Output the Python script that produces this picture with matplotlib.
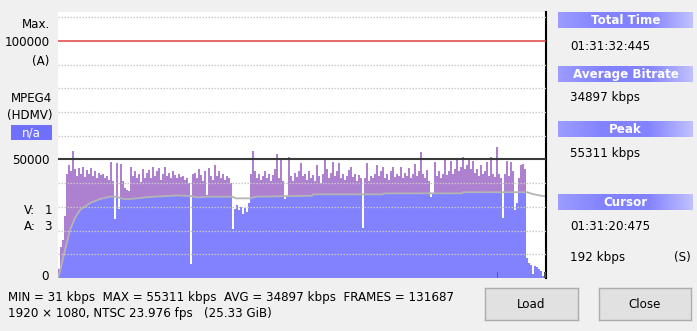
import numpy as np
import matplotlib
matplotlib.use("Agg")
import matplotlib.pyplot as plt
from matplotlib.colors import LinearSegmentedColormap

plt.rcParams["font.family"] = ["DejaVu Sans"]

duration_s = 5492.4           # 01:31:32:445
# bitrate per column (kbps), one value every ~22.5 s
bitrate_kbps = [
    4, 13, 16, 26, 44, 47.5, 45, 53.5, 46, 43, 46.5, 44, 47, 42.5, 45.5, 44,
    46.5, 43, 45, 42, 44.5, 43.5, 44, 42, 43, 41.5, 49, 41, 25, 48.5, 29, 48,
    41, 38, 37, 36.5, 47, 43, 45, 42, 44, 40.5, 46, 42, 44.5, 45.5, 42, 47,
    43, 45, 46.5, 41.5, 44, 47, 43, 44.5, 42, 45, 43.5, 42, 44, 42.5, 43, 41.5,
    42, 40, 6, 44, 44.5, 42, 46, 43.5, 41, 45, 35, 46.5, 43, 41.5, 47.5, 43,
    45, 42, 44, 41.5, 43, 42, 40, 20.5, 29, 31, 28.5, 30, 27, 29.5, 28, 31.5,
    44, 53.5, 45, 42, 44, 41.5, 43, 45, 42, 44, 41, 43.5, 46, 52.5, 42, 50,
    41, 33.5, 34, 51, 43, 41, 44.5, 42.5, 45, 48.5, 43, 44, 41.5, 45, 42, 43.5,
    41, 47.5, 43, 40, 44, 50.5, 46, 42, 44.5, 49, 43, 45, 48.5, 42, 44, 41.5,
    43, 45.5, 47, 42.5, 44, 41, 43.5, 42, 21, 42, 48.5, 41, 43, 42, 44, 47.5,
    43, 45, 47, 42, 44, 41.5, 45, 47, 42.5, 44, 43, 47, 42, 44.5, 43, 46.5,
    42, 44, 48, 43, 45, 53, 44, 42, 45.5, 41, 34, 36, 49, 43, 45, 42,
    44, 50, 43.5, 45, 49.5, 44, 46, 50.5, 45, 47, 51, 46, 47.5, 50, 46, 49.5,
    44.5, 46, 43, 47.5, 44, 45, 49, 43, 51, 44, 42.5, 55.3, 44, 42, 25.5, 44,
    49.5, 43, 49, 45, 28.5, 31.5, 42, 47.5, 48, 46, 8.5, 6.5, 5.5, 1.5, 5, 4.5,
    4, 3, 1, 0.2,
]
# running average line (time s, kbps)
avg_time_s = [0, 22, 79, 135, 191, 248, 360, 473, 585, 664, 732, 810, 1035, 1339,
              1486, 1564, 1711, 1958, 2003, 2161, 2228, 2859, 2870, 3658, 3669,
              4547, 4558, 5278, 5346, 5425, 5492]
avg_kbps = [0, 2.7, 11.8, 20.3, 25.3, 28.7, 31.6, 33.3, 34.3, 34.3, 33.3, 33.3,
            34.2, 34.8, 34.6, 34.0, 34.3, 34.3, 33.6, 33.6, 34.3, 34.7, 35.3,
            35.3, 35.7, 35.7, 36.2, 36.2, 35.4, 34.8, 34.4]
peak_time_s = 4945
cursor_time_s = 5480
limit_max = 100000
limit_ref = 50000
grid_levels = [10000, 20000, 30000, 40000, 60000, 70000, 80000, 90000, 110000]

left_labels = [("Max.", 50, 25), ("100000", 50, 42), ("(A)", 49, 62),
               ("MPEG4", 52, 98), ("(HDMV)", 53, 115), ("50000", 50, 160),
               ("0", 49, 277)]
panel = [("Total Time", 12, 28, ["01:31:32:445"], [46]),
         ("Average Bitrate", 66, 82, ["34897 kbps"], [98]),
         ("Peak", 121, 137, ["55311 kbps"], [153]),
         ("Cursor", 194, 210, ["01:31:20:475", "192 kbps"], [227, 257])]
info_line1 = "MIN = 31 kbps  MAX = 55311 kbps  AVG = 34897 kbps  FRAMES = 131687"
info_line2 = "1920 \u00d7 1080, NTSC 23.976 fps   (25.33 GiB)"

W, H = 697, 331
BLUE = "#8282ff"
PURPLE = "#ae80d0"
BG = "#f0f0f0"


def fx(x):
    return x / W


def fy(y):
    return 1 - y / H


fig = plt.figure(figsize=(W / 100, H / 100), dpi=100, facecolor=BG)

ax = fig.add_axes([fx(58), fy(278), fx(546) - fx(58), fy(12) - fy(278)])
ax.set_facecolor("white")

v = np.array(bitrate_kbps) * 1000
n = len(v)
step = duration_s / n
left_edges = np.arange(n) * step
centers = left_edges + step / 2
avg_line = np.array(avg_kbps) * 1000
avg_at = np.interp(centers, avg_time_s, avg_line)

# part of each column under the running average is blue, the rest purple
low = np.minimum(v, avg_at)
high = np.maximum(v - avg_at, 0)
ax.bar(left_edges, low, width=step, align="edge", color=BLUE,
       linewidth=0, antialiased=False, zorder=1)
ax.bar(left_edges, high, bottom=avg_at, width=step, align="edge",
       color=PURPLE, linewidth=0, antialiased=False, zorder=1.5)
ax.plot(avg_time_s, avg_line, color="#b4b4b4", lw=1.3, zorder=2)

ax.set_yticks(grid_levels)
ax.yaxis.grid(True, color="#c8c8c8", linestyle=(0, (1.2, 1.2)), lw=0.9)
ax.set_axisbelow(False)
ax.axhline(limit_ref, color="#3a3a3a", lw=1.5, zorder=4)
ax.axhline(limit_max, color="#e04040", lw=1.1, zorder=4)

ax.bar([peak_time_s], [2600], width=16, color="#e8204c", zorder=5)
ax.bar([cursor_time_s], [2600], width=22, color="#505050", zorder=5)

ax.set_xlim(0, duration_s)
ax.set_ylim(0, 112200)
ax.tick_params(left=False, labelleft=False, bottom=False, labelbottom=False)
for s in ["left", "top", "bottom"]:
    ax.spines[s].set_visible(False)
ax.spines["right"].set_color("black")
ax.spines["right"].set_linewidth(1.5)

fs = 8.6
for txt, x, y in left_labels:
    fig.text(fx(x), fy(y), txt, ha="right", va="center", fontsize=fs)
for lab, val, y in [("V:", "1", 211), ("A:", "3", 227)]:
    fig.text(fx(24), fy(y), lab, ha="left", va="center", fontsize=fs)
    fig.text(fx(52), fy(y), val, ha="right", va="center", fontsize=fs)

# n/a box
nab = fig.add_axes([fx(11), fy(140), fx(52) - fx(11), fy(125) - fy(140)])
nab.set_facecolor("#7070ff")
nab.set_xticks([])
nab.set_yticks([])
for s in nab.spines.values():
    s.set_visible(False)
nab.text(0.5, 0.48, "n/a", color="white", ha="center", va="center",
         fontsize=fs, transform=nab.transAxes)

# right panel
grad = LinearSegmentedColormap.from_list("hdr", ["#9c9cff", "#8282ff", "#8282ff", "#c0c0ff"])
for title, y0, y1, values, ys in panel:
    hb = fig.add_axes([fx(558), fy(y1), fx(693) - fx(558), fy(y0) - fy(y1)])
    hb.imshow(np.linspace(0, 1, 100)[None, :], aspect="auto", cmap=grad,
              extent=(0, 1, 0, 1))
    hb.set_axis_off()
    hb.text(0.5, 0.48, title, color="white", fontweight="bold", ha="center",
            va="center", fontsize=fs, transform=hb.transAxes)
    for val, y in zip(values, ys):
        fig.text(fx(570), fy(y), val, ha="left", va="center", fontsize=fs)
fig.text(fx(691), fy(257), "(S)", ha="right", va="center", fontsize=fs)

# info lines
fig.text(fx(8), fy(297), info_line1, ha="left", va="center", fontsize=fs)
fig.text(fx(8), fy(313), info_line2, ha="left", va="center", fontsize=fs)

# buttons
for label, x0, x1 in [("Load", 485, 578), ("Close", 599, 691)]:
    bt = fig.add_axes([fx(x0), fy(320), fx(x1) - fx(x0), fy(288) - fy(320)])
    bt.set_facecolor("#e1e1e1")
    bt.set_xticks([])
    bt.set_yticks([])
    for s in bt.spines.values():
        s.set_color("#adadad")
        s.set_linewidth(1)
    bt.text(0.5, 0.5, label, ha="center", va="center", fontsize=fs,
            transform=bt.transAxes)

fig.savefig("out.png", dpi=100, facecolor=BG)
